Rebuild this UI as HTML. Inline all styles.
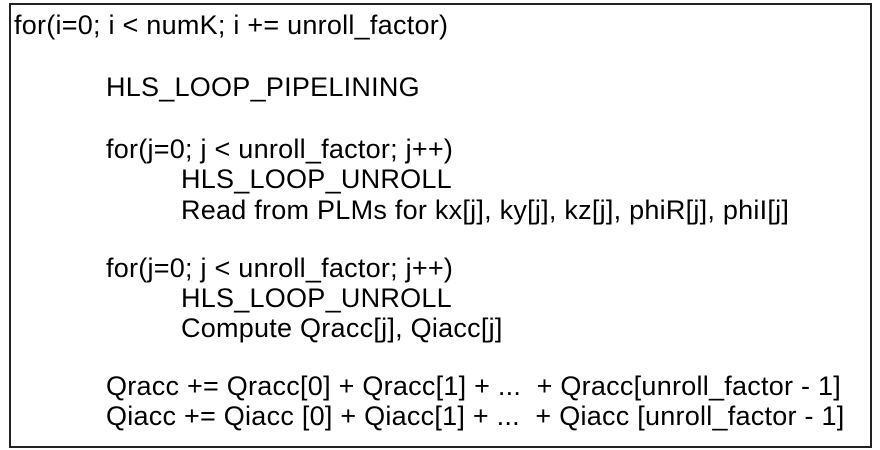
<!DOCTYPE html>
<html><head><style>
body{margin:0;width:880px;height:450px;background:#fff;position:relative;overflow:hidden;font-family:"Liberation Sans",Arial,sans-serif;}
.box{position:absolute;left:9px;top:3px;width:859px;height:441px;border:2.5px solid #222;}
.t{position:absolute;font-size:27px;line-height:1;color:#000;white-space:pre;letter-spacing:0.25px}
</style></head><body>
<div class="box"></div>
<div class="t" style="left:14px;top:12px">for(i=0; i &lt; numK; i += unroll_factor)</div>
<div class="t" style="left:106px;top:74px">HLS_LOOP_PIPELINING</div>
<div class="t" style="left:106px;top:136px">for(j=0; j &lt; unroll_factor; j++)</div>
<div class="t" style="left:181px;top:166px">HLS_LOOP_UNROLL</div>
<div class="t" style="left:181px;top:197px">Read from PLMs for kx[j], ky[j], kz[j], phiR[j], phiI[j]</div>
<div class="t" style="left:106px;top:255px">for(j=0; j &lt; unroll_factor; j++)</div>
<div class="t" style="left:181px;top:285px">HLS_LOOP_UNROLL</div>
<div class="t" style="left:181px;top:315px">Compute Qracc[j], Qiacc[j]</div>
<div class="t" style="left:106px;top:373px">Qracc += Qracc[0] + Qracc[1] + ...  + Qracc[unroll_factor - 1]</div>
<div class="t" style="left:106px;top:403px">Qiacc += Qiacc [0] + Qiacc[1] + ...  + Qiacc [unroll_factor - 1]</div>
</body></html>
